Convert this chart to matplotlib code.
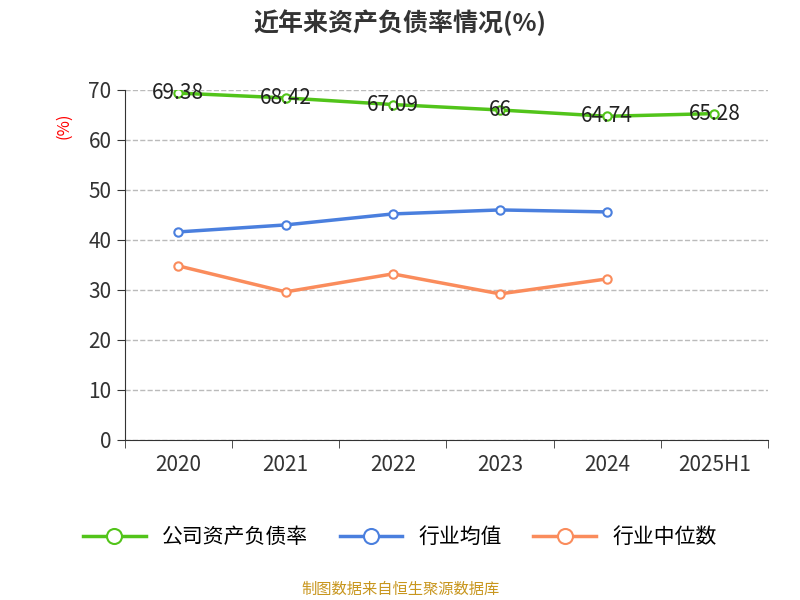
import matplotlib.pyplot as plt

plt.rcParams['font.family'] = ['Noto Sans CJK SC', 'Noto Sans CJK JP', 'Noto Sans CJK TC',
                               'Noto Sans CJK KR', 'DejaVu Sans']

years = ['2020', '2021', '2022', '2023', '2024', '2025H1']
company = [69.38, 68.42, 67.09, 66, 64.74, 65.28]
industry_avg = [41.6, 43.0, 45.2, 46.0, 45.6]
industry_med = [34.8, 29.6, 33.2, 29.2, 32.2]

green = '#52c41a'
blue = '#4a7fde'
orange = '#fa8c5c'

fig = plt.figure(figsize=(8, 6), dpi=100)
ax = fig.add_axes([0.156, 0.267, 0.804, 0.583])

x = list(range(len(years)))
ax.plot(x, company, color=green, lw=2.5, marker='o', ms=6, mfc='white', mew=1.5, label='公司资产负债率')
ax.plot(x[:5], industry_avg, color=blue, lw=2.5, marker='o', ms=6, mfc='white', mew=1.5, label='行业均值')
ax.plot(x[:5], industry_med, color=orange, lw=2.5, marker='o', ms=6, mfc='white', mew=1.5, label='行业中位数')

for xi, v in zip(x, company):
    ax.text(xi, v, f'{v:g}', ha='center', va='center', fontsize=15, color='#222222')

ax.set_xlim(-0.5, 5.5)
ax.set_ylim(0, 70)
ax.set_yticks(range(0, 71, 10))
ax.set_xticks(x)
ax.set_xticklabels(years)
ax.set_xticks([i - 0.5 for i in range(7)], minor=True)
ax.tick_params(axis='x', which='major', length=0, labelsize=15, colors='#333333', pad=10)
ax.tick_params(axis='x', which='minor', length=6, color='#333333')
ax.tick_params(axis='y', labelsize=15, colors='#333333', length=6)
ax.yaxis.grid(True, ls='--', color='#bbbbbb', lw=1)
ax.set_axisbelow(True)
for s in ['top', 'right']:
    ax.spines[s].set_visible(False)
ax.spines['left'].set_color('#333333')
ax.spines['bottom'].set_color('#333333')

fig.text(0.08, 0.79, '(%)', color='red', rotation=90, fontsize=12, ha='center', va='center')
fig.text(0.5, 0.962, '近年来资产负债率情况(%)', ha='center', va='center', fontsize=18, fontweight='bold', color='#333333')
leg = fig.legend(loc='center', bbox_to_anchor=(0.5, 0.105), ncol=3, frameon=False, fontsize=15,
                 handlelength=3, columnspacing=1.5, markerscale=1.8)
fig.text(0.5, 0.017, '制图数据来自恒生聚源数据库', ha='center', va='center', fontsize=11, color='#c8961e')

fig.savefig('out.png')
